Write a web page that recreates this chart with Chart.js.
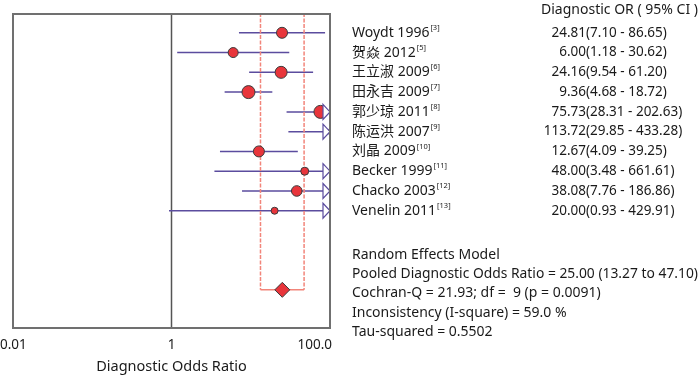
<!DOCTYPE html>
<html><head><meta charset="utf-8">
<script src="https://cdn.jsdelivr.net/npm/chart.js@4"></script>
<style>html,body{margin:0;padding:0;background:#fff}#wrap{width:700px;height:376px;position:relative}</style>
</head><body><div id="wrap"><canvas id="c" width="700" height="376"></canvas></div>
<script>
const studies = ['Woydt 1996','贺焱 2012','王立淑 2009','田永吉 2009','郭少琼 2011','陈运洪 2007','刘晶 2009','Becker 1999','Chacko 2003','Venelin 2011'];
const refs = ['[3]','[5]','[6]','[7]','[8]','[9]','[10]','[11]','[12]','[13]'];
const orValues = [24.81, 6.00, 24.16, 9.36, 75.73, 113.72, 12.67, 48.00, 38.08, 20.00];
const ciLow = [7.10, 1.18, 9.54, 4.68, 28.31, 29.85, 4.09, 3.48, 7.76, 0.93];
const ciHigh = [86.65, 30.62, 61.20, 18.72, 202.63, 433.28, 39.25, 661.61, 186.86, 429.91];
const markerSize = [5.5, 5, 6, 6.5, 6.5, 6, 5.5, 4, 5.3, 3.5];
const pooledOR = 25.00, pooledLow = 13.27, pooledHigh = 47.10;
const tickValues = [0.01, 1, 100];
const tickLabels = ['0.01', '1', '100.0'];
const statsLines = [
  'Random Effects Model',
  'Pooled Diagnostic Odds Ratio = 25.00 (13.27 to 47.10)',
  'Cochran-Q = 21.93; df =  9 (p = 0.0091)',
  'Inconsistency (I-square) = 59.0 %',
  'Tau-squared = 0.5502'
];
const headerText = 'Diagnostic OR ( 95% CI )';
const axisTitle = 'Diagnostic Odds Ratio';

const FONT = '"Noto Sans", "Noto Sans CJK SC", sans-serif';
const PURPLE = '#5b4c9e';
const RED = '#e8353b';
const DASH = '#f2857a';
const POOLED_ROW = 14;

const ciData = [];
studies.forEach((s, i) => {
  ciData.push({x: ciLow[i], y: i + 1});
  ciData.push({x: ciHigh[i], y: i + 1});
  ciData.push({x: NaN, y: NaN});
});

const fmt = v => v.toFixed(2);

const drawPlugin = {
  id: 'forest',
  beforeDatasetsDraw(chart) {
    const {ctx, chartArea: a, scales: {x}} = chart;
    ctx.save();
    ctx.strokeStyle = '#555';
    ctx.lineWidth = 1.5;
    const px = x.getPixelForValue(1);
    ctx.beginPath(); ctx.moveTo(px, a.top); ctx.lineTo(px, a.bottom); ctx.stroke();
    ctx.restore();
  },
  afterDatasetsDraw(chart) {
    const {ctx, chartArea: a, scales: {x, y}} = chart;
    ctx.save();
    studies.forEach((s, i) => {
      if (ciHigh[i] > x.max) {
        const tip = x.getPixelForValue(x.max);
        const py = y.getPixelForValue(i + 1);
        ctx.beginPath();
        ctx.moveTo(tip - 7, py - 7.5);
        ctx.lineTo(tip, py);
        ctx.lineTo(tip - 7, py + 7.5);
        ctx.closePath();
        ctx.fillStyle = '#fff';
        ctx.fill();
        ctx.strokeStyle = PURPLE;
        ctx.lineWidth = 1.2;
        ctx.stroke();
      }
    });
    ctx.strokeStyle = '#707070';
    ctx.lineWidth = 2;
    ctx.strokeRect(a.left, a.top, a.right - a.left, a.bottom - a.top);
    ctx.restore();
  },
  afterDraw(chart) {
    const {ctx, chartArea: a, scales: {x, y}} = chart;
    ctx.save();
    ctx.fillStyle = '#1a1a1a';
    ctx.textBaseline = 'middle';
    ctx.font = '13.5px ' + FONT;
    tickValues.forEach((v, i) => {
      const px = x.getPixelForValue(v);
      if (i === 0) { ctx.textAlign = 'left'; ctx.fillText(tickLabels[i], px - 13, 345); }
      else if (i === tickValues.length - 1) { ctx.textAlign = 'right'; ctx.fillText(tickLabels[i], px + 2, 345); }
      else { ctx.textAlign = 'center'; ctx.fillText(tickLabels[i], px, 345); }
    });
    ctx.font = '14.5px ' + FONT;
    ctx.textAlign = 'center';
    ctx.fillText(axisTitle, x.getPixelForValue(1), 367);
    ctx.font = '14px ' + FONT;
    ctx.textAlign = 'right';
    ctx.fillText(headerText, 698, 10, 160);
    studies.forEach((s, i) => {
      const py = y.getPixelForValue(i + 1);
      ctx.font = '14px ' + FONT;
      ctx.textAlign = 'left';
      ctx.fillText(s, 352, py);
      const w = ctx.measureText(s).width;
      ctx.font = '7.5px ' + FONT;
      ctx.fillText(refs[i], 352 + w + 1, py - 5);
      ctx.font = '13.5px ' + FONT;
      ctx.textAlign = 'right';
      ctx.fillText(fmt(orValues[i]), 586, py);
      ctx.textAlign = 'left';
      ctx.fillText('(' + fmt(ciLow[i]) + ' - ' + fmt(ciHigh[i]) + ')', 586, py);
    });
    ctx.font = '14px ' + FONT;
    ctx.textAlign = 'left';
    statsLines.forEach((t, i) => ctx.fillText(t, 352, 255 + i * 19.2, 346));
    ctx.restore();
  }
};

new Chart(document.getElementById('c'), {
  type: 'scatter',
  data: {
    datasets: [
      {
        type: 'line', data: ciData, borderColor: PURPLE, borderWidth: 1.5,
        pointRadius: 0, spanGaps: false, order: 5
      },
      {
        type: 'line',
        data: [{x: pooledLow, y: 0}, {x: pooledLow, y: POOLED_ROW}, {x: NaN, y: NaN},
               {x: pooledHigh, y: 0}, {x: pooledHigh, y: POOLED_ROW}],
        borderColor: DASH, borderWidth: 1.5, borderDash: [4, 1.5], pointRadius: 0, spanGaps: false, order: 4
      },
      {
        type: 'line',
        data: [{x: pooledLow, y: POOLED_ROW}, {x: pooledHigh, y: POOLED_ROW}],
        borderColor: DASH, borderWidth: 1.5, pointRadius: 0, order: 4
      },
      {
        data: orValues.map((v, i) => ({x: v, y: i + 1})),
        pointRadius: markerSize, pointBackgroundColor: RED, pointBorderColor: '#3a3a3a',
        pointBorderWidth: 1, order: 1
      },
      {
        data: [{x: pooledOR, y: POOLED_ROW}],
        pointStyle: 'rectRot', pointRadius: 7.5, pointBackgroundColor: RED,
        pointBorderColor: '#3a3a3a', pointBorderWidth: 1, order: 0
      }
    ]
  },
  options: {
    responsive: false, animation: false,
    layout: {padding: {left: 13, right: 370, top: 14, bottom: 48}},
    plugins: {legend: {display: false}, tooltip: {enabled: false}},
    scales: {
      x: {type: 'logarithmic', min: tickValues[0], max: tickValues[tickValues.length - 1], display: false},
      y: {type: 'linear', reverse: true, min: 0.05, max: 15.93, display: false}
    }
  },
  plugins: [drawPlugin]
});
</script></body></html>
